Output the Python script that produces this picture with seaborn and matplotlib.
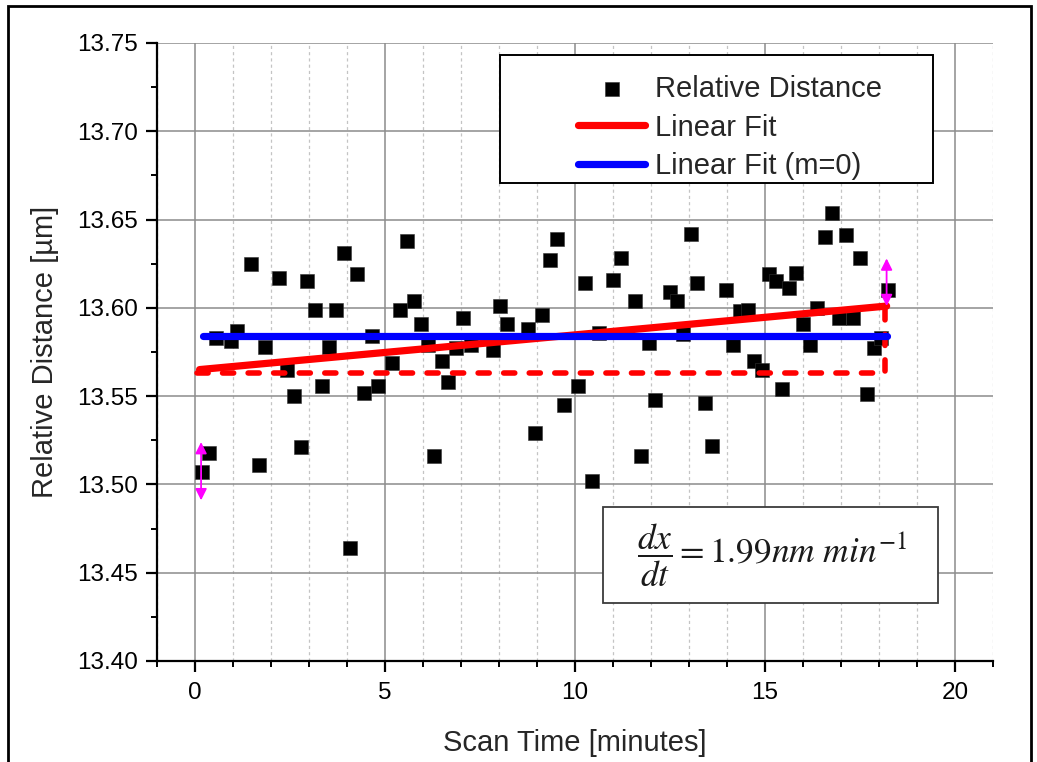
import numpy as np
import pandas as pd
import matplotlib
matplotlib.use("Agg")
import matplotlib.pyplot as plt
import seaborn as sns
from matplotlib.ticker import MultipleLocator, FixedLocator
from matplotlib.patches import Rectangle

# ---------------- data ----------------
time_min = [0.18, 0.36, 0.55, 0.94, 1.11, 1.48, 1.68, 1.85, 2.22, 2.41,
            2.60, 2.79, 2.96, 3.17, 3.33, 3.52, 3.70, 3.91, 4.08, 4.27,
            4.45, 4.65, 4.81, 5.18, 5.39, 5.57, 5.76, 5.94, 6.14, 6.30,
            6.49, 6.67, 6.87, 7.06, 7.25, 7.85, 8.03, 8.21, 8.77, 8.96,
            9.14, 9.33, 9.52, 9.70, 10.08, 10.25, 10.46, 10.63, 11.00, 11.20,
            11.57, 11.74, 11.94, 12.11, 12.49, 12.68, 12.85, 13.05, 13.22, 13.42,
            13.60, 13.97, 14.16, 14.33, 14.54, 14.71, 14.92, 15.10, 15.28, 15.45,
            15.63, 15.82, 16.01, 16.18, 16.38, 16.58, 16.75, 16.95, 17.13, 17.31,
            17.51, 17.69, 17.87, 18.05, 18.23]
distance_um = [13.507, 13.518, 13.583, 13.581, 13.587, 13.625, 13.511, 13.578, 13.617, 13.565,
               13.550, 13.521, 13.615, 13.599, 13.556, 13.578, 13.599, 13.631, 13.464, 13.619,
               13.552, 13.584, 13.556, 13.569, 13.599, 13.638, 13.604, 13.591, 13.579, 13.516,
               13.570, 13.558, 13.577, 13.594, 13.579, 13.576, 13.601, 13.591, 13.588, 13.529,
               13.596, 13.627, 13.639, 13.545, 13.556, 13.614, 13.502, 13.586, 13.616, 13.628,
               13.604, 13.516, 13.580, 13.548, 13.609, 13.604, 13.585, 13.642, 13.614, 13.546,
               13.522, 13.610, 13.579, 13.598, 13.599, 13.570, 13.565, 13.619, 13.615, 13.554,
               13.611, 13.620, 13.591, 13.579, 13.600, 13.640, 13.654, 13.594, 13.641, 13.594,
               13.628, 13.551, 13.577, 13.583, 13.610]

fit_x = [0.12, 18.20]            # extent of the sloped fit
flat_x = [0.22, 18.20]           # extent of the m = 0 fit
fit_intercept = 13.5648          # µm at t = 0
fit_slope = 0.00199              # µm / min  (1.99 nm/min)
flat_level = 13.584              # m = 0 fit
ref_x = [0.05, 18.15]            # dashed reference (horizontal part)
ref_level = 13.5633
ref_top = 13.600                 # dashed reference (vertical part top)
arrow_left = [0.16, 13.491, 13.524]
arrow_right = [18.20, 13.601, 13.628]

x_ticks = [0, 5, 10, 15, 20]
y_ticks = [13.40, 13.45, 13.50, 13.55, 13.60, 13.65, 13.70, 13.75]

legend_labels = ["Relative Distance", "Linear Fit", "Linear Fit (m=0)"]
slope_text = r"$\dfrac{dx}{dt} = 1.99nm\ min^{-1}$"
x_label = "Scan Time [minutes]"
y_label = "Relative Distance [µm]"

# ---------------- style ----------------
sns.set_style("ticks")
plt.rcParams["font.family"] = ["Liberation Sans", "DejaVu Sans"]
plt.rcParams["mathtext.fontset"] = "stix"

W, H = 1037, 762
fig = plt.figure(figsize=(W / 100, H / 100), dpi=100)
ax = fig.add_axes([157 / W, 1 - 661 / H, (993 - 157) / W, (661 - 43) / H])

df = pd.DataFrame({"t": time_min, "d": distance_um})
fit_df = pd.DataFrame({"t": fit_x,
                       "d": [fit_intercept + fit_slope * v for v in fit_x]})
flat_df = pd.DataFrame({"t": flat_x, "d": [flat_level] * len(flat_x)})
ref_df = pd.DataFrame({"t": ref_x + [ref_x[1]],
                       "d": [ref_level, ref_level, ref_top]})

sns.scatterplot(data=df, x="t", y="d", marker="s", s=100, color="black",
                edgecolor="#333333", linewidth=0.4, ax=ax, zorder=3,
                label=legend_labels[0], legend=False)

ax.plot(ref_df["t"], ref_df["d"], color="#ff0000", lw=4.0,
        dashes=(2.0, 2.6), dash_capstyle="round", solid_capstyle="round", zorder=4)
sns.lineplot(data=fit_df, x="t", y="d", color="#ff0000", lw=5.2, ax=ax,
             solid_capstyle="round", zorder=5, label=legend_labels[1], legend=False)
sns.lineplot(data=flat_df, x="t", y="d", color="#0000ff", lw=5.2, ax=ax,
             solid_capstyle="round", zorder=5, label=legend_labels[2], legend=False)

for ax_x, y0, y1 in [arrow_left, arrow_right]:
    ax.annotate("", xy=(ax_x, y1), xytext=(ax_x, y0),
                arrowprops=dict(arrowstyle="<|-|>", color="#ff00ff", lw=1.3,
                                mutation_scale=17, shrinkA=0, shrinkB=0),
                zorder=6)

# ---------------- axes ----------------
ax.set_xlim(-1, 21)
ax.set_ylim(13.40, 13.75)
ax.xaxis.set_major_locator(FixedLocator(x_ticks))
ax.xaxis.set_minor_locator(MultipleLocator(1))
ax.yaxis.set_major_locator(FixedLocator(y_ticks))
ax.yaxis.set_minor_locator(MultipleLocator(0.025))
ax.set_yticklabels([f"{v:.2f}" for v in y_ticks])
ax.set_xticklabels([str(v) for v in x_ticks])

ax.grid(which="major", axis="both", color="#8c8c8c", lw=1.1, zorder=0)
ax.grid(which="minor", axis="x", color="#c4c4c4", lw=0.9, ls=(0, (2.5, 2.5)), zorder=0)
ax.set_axisbelow(True)

for side in ["top", "right"]:
    ax.spines[side].set_visible(False)
for side in ["left", "bottom"]:
    ax.spines[side].set_linewidth(1.6)
    ax.spines[side].set_color("black")

ax.tick_params(which="major", direction="out", length=8, width=1.6,
               labelsize=17.5, colors="black", pad=6)
ax.tick_params(which="minor", direction="out", length=4.5, width=1.4, colors="black")
ax.tick_params(axis="x", which="major", pad=7)

ax.set_xlabel(x_label, fontsize=21, labelpad=18)
ax.set_ylabel(y_label, fontsize=21, labelpad=13)

# ---------------- legend ----------------
handles, labels = ax.get_legend_handles_labels()
leg = ax.legend(handles, labels, loc="upper left",
                bbox_to_anchor=((578 - 157) / 836, (661 - 75) / 618),
                frameon=False, fontsize=21, handlelength=2.3, handletextpad=0.35,
                labelspacing=0.36, borderpad=0.0, borderaxespad=0.0,
                scatterpoints=1, markerscale=1.05)
ax.add_patch(Rectangle(((500 - 157) / 836, (661 - 183) / 618),
                       (933 - 500) / 836, (183 - 55) / 618,
                       transform=ax.transAxes, fill=True, facecolor="white",
                       edgecolor="black", lw=1.4, zorder=7))
leg.set_zorder(8)

# ---------------- slope annotation box ----------------
ax.add_patch(Rectangle(((603 - 157) / 836, (661 - 603) / 618),
                       (938 - 603) / 836, (603 - 507) / 618,
                       transform=ax.transAxes, facecolor="white",
                       edgecolor="#3a3a3a", lw=1.3, zorder=7))
ax.text((772 - 157) / 836, (661 - 555) / 618, slope_text, transform=ax.transAxes,
        ha="center", va="center", fontsize=25.5, color="#1a1a1a", zorder=8)

# figure border
fig.add_artist(Rectangle((8 / W, -0.02), (1031 - 8) / W, 1.02 - 6 / H,
                         transform=fig.transFigure, fill=False,
                         edgecolor="black", lw=2))

fig.savefig("out.png", dpi=100)
